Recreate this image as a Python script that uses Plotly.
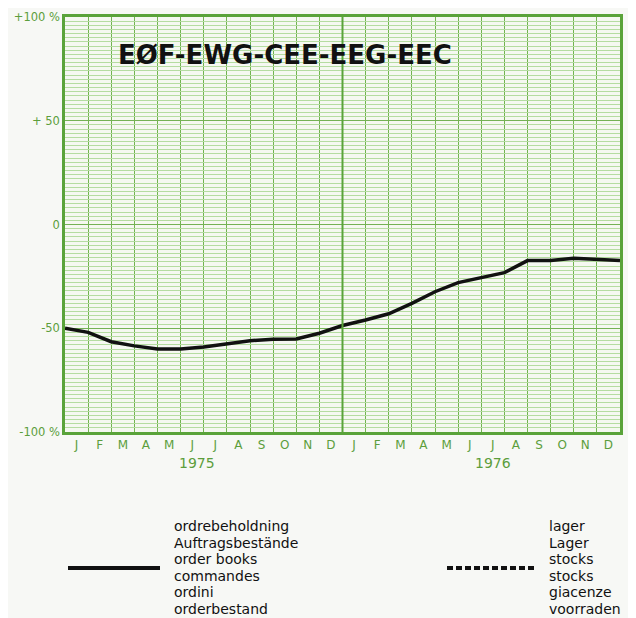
import plotly.graph_objects as go

months = ["J", "F", "M", "A", "M", "J", "J", "A", "S", "O", "N", "D"] * 2
years = ["1975", "1976"]
# order books, read at each month boundary (Jan 1975 .. end Dec 1976)
order_books = [-50, -52, -56.5, -58.5, -60, -60, -59, -57.7, -56, -55.3, -55.2, -52.4,
               -48.7, -46, -43, -38, -32.4, -28, -25.8, -23.2, -17.4, -17.4, -16.3, -16.8, -17.4]
legend_solid = ["ordrebeholdning", "Auftragsbestände", "order books", "commandes", "ordini", "orderbestand"]
legend_dash = ["lager", "Lager", "stocks", "stocks", "giacenze", "voorraden"]

GREEN = "#5aa33a"
TXT_GREEN = "#5c9e3c"
FONT = "DejaVu Sans"

# the page body adds an 8px offset, so the figure is 8px smaller and margins shifted
OFF = 8
L, T, PW, PH = 65 - OFF, 17 - OFF, 555, 415

fig = go.Figure()
fig.add_trace(go.Scatter(
    x=list(range(len(order_books))),
    y=order_books,
    mode="lines",
    line=dict(color="#111111", width=3.5),
    showlegend=False,
    hoverinfo="skip",
))

# heavy line between the two years
fig.add_vline(x=12, line=dict(color=GREEN, width=2))

fig.update_xaxes(
    range=[0, 24],
    tickvals=[i + 0.5 for i in range(24)],
    ticktext=months,
    ticks="",
    showgrid=False,
    zeroline=False,
    automargin=False,
    showline=True, mirror=True, linecolor=GREEN, linewidth=2.5,
    tickfont=dict(family=FONT, size=12, color=TXT_GREEN),
    minor=dict(tickvals=list(range(25)), showgrid=True, gridcolor="#72b350", gridwidth=1),
    fixedrange=True,
)
fig.update_yaxes(
    range=[-100, 100],
    tickvals=[100, 50, 0, -50, -100],
    ticktext=["+100 %", "+ 50", "0", "-50", "-100 %"],
    ticks="",
    showgrid=True, gridcolor="#74b255", gridwidth=1.3,
    zeroline=False,
    automargin=False,
    showline=True, mirror=True, linecolor=GREEN, linewidth=2.5,
    tickfont=dict(family=FONT, size=11.5, color=TXT_GREEN),
    minor=dict(dtick=2, showgrid=True, gridcolor="#b5dca1", gridwidth=0.7),
    fixedrange=True,
)

# legend block below the chart, positions given in page pixels
def px_x(px):
    return (px - 65) / PW

def px_y(py):
    return (432 - py) / PH

fig.add_annotation(text="<b>EØF-EWG-CEE-EEG-EEC</b>", xref="paper", yref="paper", x=px_x(285), y=px_y(55),
                   showarrow=False, font=dict(family=FONT, size=26, color="#111111"),
                   xanchor="center", yanchor="middle")

for xpos, yr in zip([5.7, 18.5], years):
    fig.add_annotation(text=yr, xref="x", yref="paper", x=xpos, y=px_y(463), showarrow=False,
                       font=dict(family=FONT, size=14, color=TXT_GREEN), xanchor="center", yanchor="middle")

fig.add_shape(type="line", xref="paper", yref="paper", x0=px_x(68), x1=px_x(160),
              y0=px_y(568), y1=px_y(568), line=dict(color="#111111", width=4))
fig.add_shape(type="line", xref="paper", yref="paper", x0=px_x(447), x1=px_x(537),
              y0=px_y(568), y1=px_y(568), line=dict(color="#111111", width=4, dash="6px,3px"))

for i, (a, b) in enumerate(zip(legend_solid, legend_dash)):
    yy = px_y(526 + i * 16.6)
    fig.add_annotation(text=a, xref="paper", yref="paper", x=px_x(172), y=yy, showarrow=False,
                       font=dict(family=FONT, size=14, color="#111111"), xanchor="left", yanchor="middle")
    fig.add_annotation(text=b, xref="paper", yref="paper", x=px_x(547), y=yy, showarrow=False,
                       font=dict(family=FONT, size=14, color="#111111"), xanchor="left", yanchor="middle")

W, H = 636 - OFF, 618 - OFF
fig.update_layout(
    width=W, height=H,
    margin=dict(l=L, r=W - L - PW, t=T, b=H - T - PH),
    paper_bgcolor="#f7f8f5",
    plot_bgcolor="#f5f8f1",
    showlegend=False,
)

fig.write_html("out.html")
